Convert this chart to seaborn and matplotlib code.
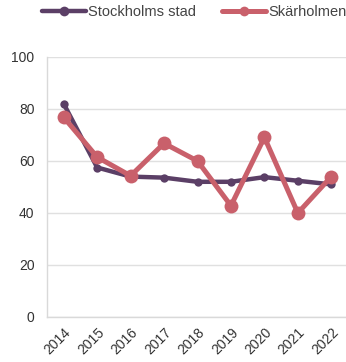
import matplotlib
matplotlib.use("Agg")
import matplotlib.pyplot as plt
import seaborn as sns
import pandas as pd
import numpy as np

years = ["2014", "2015", "2016", "2017", "2018", "2019", "2020", "2021", "2022"]
stockholm = [82, 57.5, 54, 53.6, 52, 52, 53.8, 52.4, 51]
skarholmen = [76.8, 61.5, 54.3, 66.8, 60, 42.8, 69.1, 40, 54]
series_names = ["Stockholms stad", "Skärholmen"]
yticks = [0, 20, 40, 60, 80, 100]

sns.set_theme(style="white")
plt.rcParams["font.family"] = ["Liberation Sans", "DejaVu Sans"]

df = pd.DataFrame({
    "year": np.arange(len(years)).tolist() * 2,
    "value": stockholm + skarholmen,
    "series": [series_names[0]] * len(years) + [series_names[1]] * len(years),
})

colors = {"Stockholms stad": "#5b3f66", "Skärholmen": "#c9606b"}

fig = plt.figure(figsize=(3.46, 3.62), dpi=100)
ax = fig.add_axes([47 / 346, 1 - 317 / 362, 301 / 346, 260 / 362])

sns.lineplot(data=df[df.series == series_names[0]], x="year", y="value",
             color=colors[series_names[0]], linewidth=3.2, marker="o",
             markersize=6, markeredgewidth=0, ax=ax, label=series_names[0],
             zorder=3)
sns.lineplot(data=df[df.series == series_names[1]], x="year", y="value",
             color=colors[series_names[1]], linewidth=3.6, marker="o",
             markersize=10, markeredgewidth=0, ax=ax, label=series_names[1],
             zorder=4)

ax.set_xlim(-0.5, len(years) - 0.5)
ax.set_ylim(0, 100)
ax.set_yticks(yticks)
ax.set_yticklabels([str(v) for v in yticks], fontsize=10, color="#333333")
ax.yaxis.grid(True, color="#e0e0e0", linewidth=1)
ax.set_axisbelow(True)

ax.set_xticks(range(len(years)))
ax.set_xticklabels(years, rotation=45, ha="right", va="top",
                   rotation_mode="anchor", fontsize=10, color="#333333")
ax.set_xticks(np.arange(-0.5, len(years), 1), minor=True)
ax.tick_params(axis="x", which="major", length=0, pad=6)
ax.tick_params(axis="x", which="minor", length=5, width=1, color="#d9d9d9",
               direction="inout")
ax.tick_params(axis="y", length=0, pad=9)

for side in ["top", "right"]:
    ax.spines[side].set_visible(False)
for side in ["left", "bottom"]:
    ax.spines[side].set_color("#d9d9d9")
    ax.spines[side].set_linewidth(1)

ax.set_xlabel("")
ax.set_ylabel("")

leg = ax.legend(loc="upper left", bbox_to_anchor=(-0.017, 1.2), ncol=2,
                frameon=False, fontsize=10.5, handlelength=3,
                handletextpad=0.15, columnspacing=1.8, labelcolor="#444444",
                borderaxespad=0, borderpad=0)
for line in leg.get_lines():
    line.set_markersize(7)

fig.savefig("out.png", dpi=100)
